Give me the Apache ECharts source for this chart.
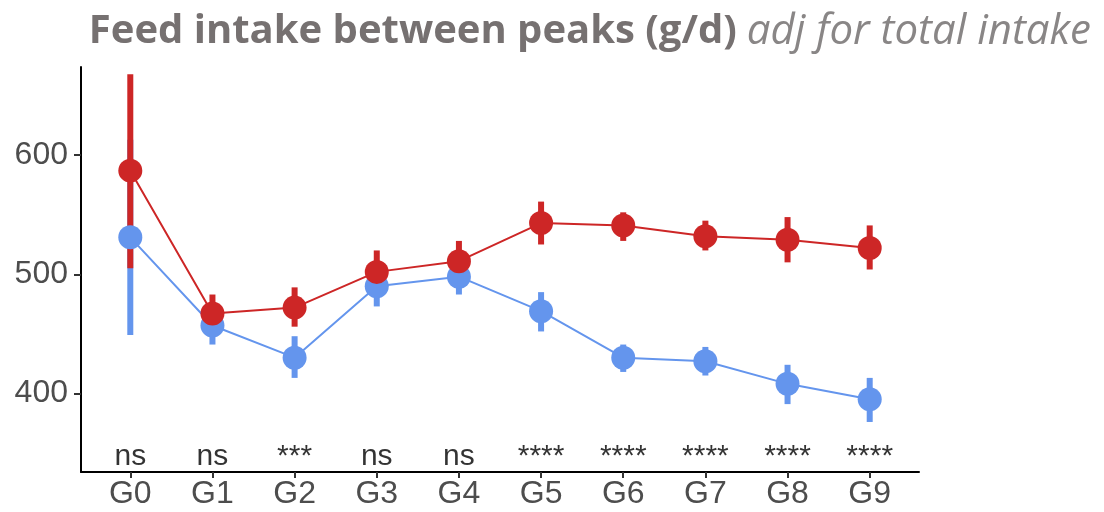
<!DOCTYPE html>
<html>
<head>
<meta charset="utf-8">
<script src="https://cdn.jsdelivr.net/npm/echarts@6/dist/echarts.min.js"></script>
<style>
    html, body { margin: 0; padding: 0; background: #fff; }
    #main { width: 1104px; height: 512px; }
</style>
</head>
<body>
<div id="main"></div>
<script>
// tick labels
var groups = ['G0', 'G1', 'G2', 'G3', 'G4', 'G5', 'G6', 'G7', 'G8', 'G9'];
var yTicks = [400, 500, 600];

// red group: mean, lower, upper
var redMean = [587, 467, 472, 502, 511, 543, 541, 532, 529, 522];
var redLow  = [505, 451, 456, 484, 495, 525, 528, 520, 510, 504];
var redHigh = [668, 483, 489, 520, 528, 561, 552, 545, 548, 541];

// blue group: mean, lower, upper
var blueMean = [531, 457, 430, 490, 498, 469, 430, 427, 408, 395];
var blueLow  = [449, 441, 413, 473, 483, 452, 418, 415, 391, 376];
var blueHigh = [613, 474, 448, 506, 513, 485, 441, 439, 424, 413];

// significance per group
var signif = ['ns', 'ns', '***', 'ns', 'ns', '****', '****', '****', '****', '****'];
var signifY = 347;

var RED = '#CD2626';
var BLUE = '#6495ED';

function pairs(arr) {
    return arr.map(function (v, i) { return [i, v]; });
}
function bars(low, high) {
    return low.map(function (v, i) { return [i, v, high[i]]; });
}
function errorBar(color) {
    return function (params, api) {
        var a = api.coord([api.value(0), api.value(1)]);
        var b = api.coord([api.value(0), api.value(2)]);
        return {
            type: 'line',
            shape: { x1: a[0], y1: a[1], x2: b[0], y2: b[1] },
            style: { stroke: color, lineWidth: 6 }
        };
    };
}

var myChart = echarts.init(document.getElementById('main'));
myChart.setOption({
    animation: false,
    title: {
        text: '{b|Feed intake between peaks (g/d)}{s| }{i|adj for total intake}',
        right: 8,
        top: 6,
        textStyle: {
            rich: {
                b: { fontFamily: 'Open Sans', fontWeight: 'bold', fontSize: 40, color: '#767171' },
                s: { fontSize: 40, width: 10 },
                i: { fontFamily: 'Open Sans', fontStyle: 'italic', fontWeight: 'normal', fontSize: 42, color: '#898686' }
            }
        }
    },
    grid: { left: 81, right: 185, top: 67, bottom: 40 },
    xAxis: {
        type: 'value',
        min: -0.6,
        max: 9.6,
        splitLine: { show: false },
        axisLine: { onZero: false, lineStyle: { color: '#000', width: 2 } },
        axisTick: { customValues: [0, 1, 2, 3, 4, 5, 6, 7, 8, 9], length: 6, lineStyle: { color: '#333', width: 2 } },
        axisLabel: {
            customValues: [0, 1, 2, 3, 4, 5, 6, 7, 8, 9],
            formatter: function (v) { return groups[Math.round(v)]; },
            fontFamily: 'Liberation Sans',
            fontSize: 32,
            color: '#4D4D4D',
            margin: 6
        }
    },
    yAxis: {
        type: 'value',
        min: 334,
        max: 674,
        splitLine: { show: false },
        axisLine: { show: true, onZero: false, lineStyle: { color: '#000', width: 2 } },
        axisTick: { show: true, customValues: yTicks, length: 7, lineStyle: { color: '#333', width: 2 } },
        axisLabel: {
            customValues: yTicks,
            fontFamily: 'Liberation Sans',
            fontSize: 32,
            color: '#4D4D4D',
            margin: 13
        }
    },
    series: [
        {
            type: 'custom',
            renderItem: errorBar(BLUE),
            data: bars(blueLow, blueHigh),
            z: 1
        },
        {
            type: 'custom',
            renderItem: errorBar(RED),
            data: bars(redLow, redHigh),
            z: 2
        },
        {
            type: 'line',
            data: pairs(blueMean),
            symbol: 'circle',
            symbolSize: 24,
            itemStyle: { color: BLUE },
            lineStyle: { color: BLUE, width: 2 },
            z: 3
        },
        {
            type: 'line',
            data: pairs(redMean),
            symbol: 'circle',
            symbolSize: 24,
            itemStyle: { color: RED },
            lineStyle: { color: RED, width: 2 },
            z: 4
        },
        {
            type: 'scatter',
            data: signif.map(function (s, i) { return [i, signifY]; }),
            symbolSize: 0,
            silent: true,
            label: {
                show: true,
                position: 'inside',
                formatter: function (p) { return signif[p.dataIndex]; },
                fontFamily: 'Liberation Sans',
                fontSize: 30,
                color: '#000'
            },
            z: 5
        }
    ]
});
</script>
</body>
</html>
